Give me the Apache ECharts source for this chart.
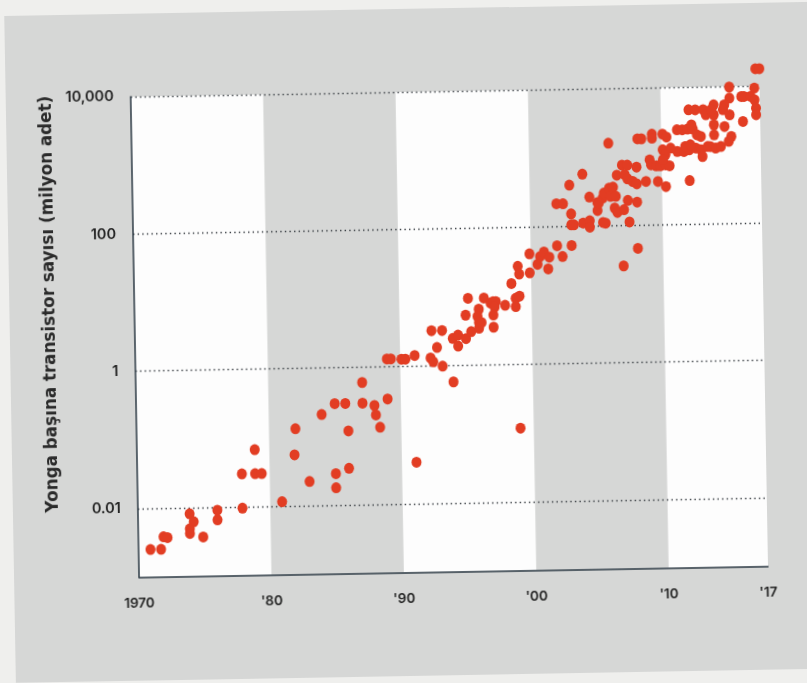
<!DOCTYPE html>
<html><head><meta charset="utf-8">
<script src="https://cdn.jsdelivr.net/npm/echarts@6/dist/echarts.min.js"></script>
<style>
html,body{margin:0;padding:0;width:807px;height:683px;overflow:hidden;background:#efefed;}
#wrap{position:absolute;left:0;top:0;width:807px;height:683px;transform:rotate(-1deg);transform-origin:403.5px 341.5px;}
#card{position:absolute;left:10px;top:9px;width:840px;height:667px;background:#d6d7d6;}
#chart{position:absolute;left:0;top:0;width:807px;height:683px;}
</style></head>
<body><div id="wrap"><div id="card"></div><div id="chart"></div></div>
<script>
// [year, transistors per chip (millions)]
const chips1970s = [[1970.9,0.0025],[1971.7,0.0025],[1971.9,0.0038],[1972.2,0.0037],[1973.9,0.0081],[1974.2,0.0062],[1973.9,0.0049],[1973.9,0.0042],[1974.9,0.0037],[1976.0,0.0090],[1976.0,0.0065],[1977.9,0.0095],[1977.9,0.030],[1978.9,0.030],[1979.4,0.030],[1978.9,0.067]];
const chips1980s = [[1980.9,0.0115],[1982.0,0.132],[1981.9,0.055],[1983.0,0.0223],[1984.0,0.21],[1985.0,0.0286],[1985.0,0.0178],[1986.0,0.034],[1985.0,0.30],[1985.8,0.30],[1987.1,0.60],[1987.1,0.30],[1988.0,0.275],[1988.1,0.20],[1988.4,0.132],[1986.0,0.119],[1989.0,0.34],[1989.0,1.30],[1989.3,1.30]];
const chips1990s = [[1990.1,1.28],[1990.4,1.28],[1991.1,0.040],[1991.1,1.44],[1992.3,1.31],[1992.5,1.15],[1993.2,0.99],[1994.0,0.58],[1992.4,3.27],[1993.2,3.27],[1992.8,1.86],[1994.0,2.49],[1994.4,2.78],[1994.4,1.92],[1995.0,2.46],[1995.4,3.1],[1995.0,5.4],[1995.2,9.5],[1996.0,6.55],[1995.9,5.15],[1996.0,4.2],[1996.0,3.45],[1996.2,4.18],[1996.4,9.5],[1996.9,8.0],[1997.1,8.35],[1997.3,8.35],[1997.2,7.0],[1997.1,5.35],[1997.1,3.55],[1998.0,7.35],[1998.8,7.0],[1998.8,9.2],[1999.1,9.9],[1998.5,15.2],[1999.0,27],[1999.1,20.8],[1999.0,0.118],[1999.9,21.5],[1999.9,40.7]];
const chips2000s = [[2000.5,28.5],[2000.7,37],[2001.0,43],[2001.4,36],[2001.3,24.3],[2002.0,52.5],[2002.4,36.5],[2003.1,52.5],[2002.0,215],[2002.5,214],[2003.0,398],[2004.0,572],[2003.1,152],[2003.1,105],[2003.3,105],[2004.0,111],[2004.5,119],[2004.5,96],[2004.5,264],[2005.1,219],[2005.5,253],[2005.6,299],[2005.1,167],[2005.5,112],[2006.0,1590],[2007.0,25.7],[2008.1,46],[2007.5,112],[2005.7,109],[2005.2,215],[2006.0,352],[2006.3,363],[2006.1,266],[2006.5,266],[2006.4,180],[2006.6,155],[2007.1,169],[2007.4,231],[2008.1,217],[2006.6,542],[2007.0,756],[2007.4,753],[2007.2,545],[2007.4,476],[2007.8,434],[2008.1,400],[2008.1,701],[2008.8,431],[2009.1,888],[2009.2,751],[2009.7,428],[2008.2,1810],[2008.5,1806],[2009.3,2100],[2009.3,1835],[2009.6,724],[2009.9,723]];
const chips2010s = [[2010.1,2088],[2010.4,1885],[2010.3,745],[2010.6,719],[2010.1,1234],[2010.3,1043],[2010.1,881],[2010.3,359],[2011.2,2393],[2011.6,2388],[2012.0,2436],[2012.4,2436],[2012.1,4657],[2012.6,4637],[2013.2,4627],[2011.2,1156],[2011.7,1153],[2012.1,1217],[2012.6,1282],[2013.0,1208],[2013.1,963],[2012.1,433],[2013.5,1343],[2017.2,17750],[2017.5,17750],[2015.2,9750],[2017.1,9280],[2015.2,6720],[2016.1,7040],[2016.3,7040],[2016.8,7040],[2017.1,6250],[2017.2,4735],[2017.2,3785],[2016.2,3045],[2014.8,5385],[2014.7,4570],[2014.0,5415],[2014.0,3875],[2015.2,3845],[2014.8,2600],[2014.0,2770],[2014.0,1980],[2015.3,1852],[2015.1,1575],[2013.4,3895],[2013.8,4600],[2012.3,2805],[2012.7,2000],[2013.0,1887],[2010.7,1300],[2011.8,1360],[2012.2,1435],[2013.7,1340],[2014.1,1266],[2014.5,1332]];

const xTickValues = [1970, 1980, 1990, 2000, 2010, 2017.5];
const xTickText = ['1970', "'80", "'90", "'00", "'10", "'17"];
const yTickValues = [0.01, 1, 100, 10000];
const yTickText = ['0.01', '1', '100', '10,000'];
const grayDecades = [[1980, 1990], [2000, 2010]];
const yTitle = 'Yonga başına transistor sayısı (milyon adet)';

const allChips = [].concat(chips1970s, chips1980s, chips1990s, chips2000s, chips2010s);

const chart = echarts.init(document.getElementById('chart'), null, {renderer: 'canvas'});
const labelFont = 'Inter';
chart.setOption({
  animation: false,
  backgroundColor: 'transparent',
  grid: {left: 135, top: 92, right: 43, bottom: 110.6, show: true, backgroundColor: '#fdfdfd', borderWidth: 0},
  xAxis: {
    type: 'value', min: 1970, max: 2017.5, interval: 10, z: 3,
    axisLine: {show: true, lineStyle: {color: '#2d3a44', width: 1.5}},
    axisTick: {show: false},
    splitLine: {show: false},
    axisLabel: {
      margin: 20, color: '#222', fontFamily: labelFont, fontWeight: 600, fontSize: 13.5,
      showMinLabel: true, showMaxLabel: true,
      formatter: function (v) {
        for (let i = 0; i < xTickValues.length; i++) if (Math.abs(v - xTickValues[i]) < 0.01) return xTickText[i];
        return '';
      }
    }
  },
  yAxis: {
    type: 'log', logBase: 10, min: 0.001, max: 10000, z: 3,
    axisLine: {show: true, lineStyle: {color: '#2d3a44', width: 1.5}},
    axisTick: {show: false},
    splitLine: {show: true, lineStyle: {color: ['rgba(0,0,0,0)', '#3a3f44'], width: 1.4, type: [1.4, 3.2]}},
    axisLabel: {
      margin: 17, color: '#222', fontFamily: labelFont, fontWeight: 600, fontSize: 14.5,
      showMinLabel: false,
      formatter: function (v) {
        for (let i = 0; i < yTickValues.length; i++) if (Math.abs(Math.log10(v) - Math.log10(yTickValues[i])) < 1e-6) return yTickText[i];
        return '';
      }
    }
  },
  graphic: [{
    type: 'text', x: 51, y: 298, rotation: Math.PI / 2,
    style: {text: yTitle, font: '700 16.8px "DejaVu Sans"', fill: '#2a2a2a', align: 'center', verticalAlign: 'middle', textAlign: 'center', textVerticalAlign: 'middle'}
  }],
  series: [
    {
      type: 'scatter', data: [], z: 1, silent: true,
      markArea: {silent: true, itemStyle: {color: '#d6d7d6'},
        data: grayDecades.map(d => [{xAxis: d[0]}, {xAxis: d[1]}])}
    },
    {
      type: 'scatter', data: allChips, z: 4, clip: false,
      symbol: 'circle', symbolSize: [10, 11],
      itemStyle: {color: '#e23d23', opacity: 1}
    }
  ]
});
</script>
</body></html>
